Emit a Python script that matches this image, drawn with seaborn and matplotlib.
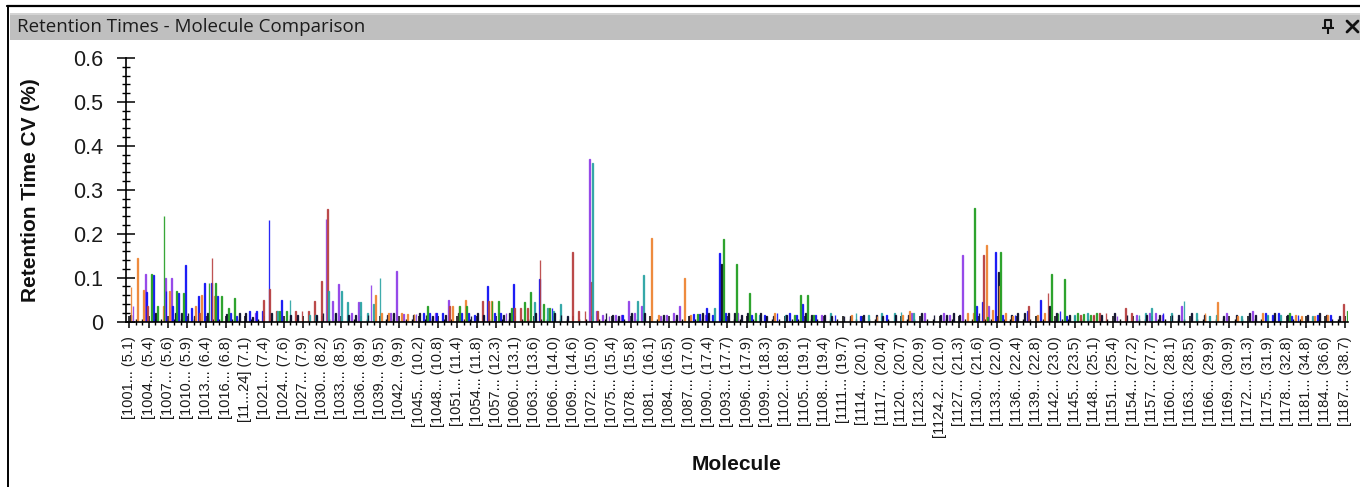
import matplotlib
matplotlib.use("Agg")
import matplotlib.pyplot as plt
from matplotlib.lines import Line2D
from matplotlib.patches import Rectangle
from matplotlib.ticker import FixedLocator, MultipleLocator, FuncFormatter
import pandas as pd
import seaborn as sns

# ---------------------------------------------------------------- data
N_MOLECULES = 190
LABEL_STEP = 3

MOLECULE_LABELS = [
    "[1001... (5.1)", "[1004... (5.4)", "[1007... (5.6)", "[1010... (5.9)",
    "[1013... (6.4)", "[1016... (6.8)", "[11...24] (7.1)", "[1021... (7.4)",
    "[1024... (7.6)", "[1027... (7.9)", "[1030... (8.2)", "[1033... (8.5)",
    "[1036... (8.9)", "[1039... (9.5)", "[1042... (9.9)", "[1045... (10.2)",
    "[1048... (10.8)", "[1051... (11.4)", "[1054... (11.8)", "[1057... (12.3)",
    "[1060... (13.1)", "[1063... (13.6)", "[1066... (14.0)", "[1069... (14.6)",
    "[1072... (15.0)", "[1075... (15.4)", "[1078... (15.8)", "[1081... (16.1)",
    "[1084... (16.5)", "[1087... (17.0)", "[1090... (17.4)", "[1093... (17.7)",
    "[1096... (17.9)", "[1099... (18.3)", "[1102... (18.9)", "[1105... (19.1)",
    "[1108... (19.4)", "[1111... (19.7)", "[1114... (20.1)", "[1117... (20.4)",
    "[1120... (20.7)", "[1123... (20.9)", "[1124.2... (21.0)", "[1127... (21.3)",
    "[1130... (21.6)", "[1133... (22.0)", "[1136... (22.4)", "[1139... (22.8)",
    "[1142... (23.0)", "[1145... (23.5)", "[1148... (25.1)", "[1151... (25.4)",
    "[1154... (27.2)", "[1157... (27.7)", "[1160... (28.1)", "[1163... (28.5)",
    "[1166... (29.9)", "[1169... (30.9)", "[1172... (31.3)", "[1175... (31.9)",
    "[1178... (32.8)", "[1181... (34.8)", "[1184... (36.6)", "[1187... (38.7)",
]

SERIES = ["purple", "blue", "darkred", "teal", "black", "orange", "green"]

# retention time CV per molecule index, one dict per transition series
CV_PURPLE = {1: .036, 3: .108, 6: .10, 7: .10, 20: .02, 31: .233, 32: .047,
             33: .085, 35: .02, 36: .044, 38: .082, 41: .02, 42: .114, 43: .017,
             45: .017, 48: .02, 50: .05, 58: .02, 59: .02, 72: .37, 73: .025,
             74: .015, 75: .012, 76: .015, 77: .015, 78: .047, 79: .02, 80: .036,
             83: .012, 84: .015, 85: .02, 86: .035, 90: .015, 95: .02, 108: .015,
             122: .02, 124: .02, 127: .02, 128: .015, 130: .151, 134: .036,
             154: .012, 157: .015, 159: .02, 160: .02, 161: .015, 164: .035,
             171: .02, 175: .025}
CV_BLUE = {3: .067, 4: .105, 6: .07, 7: .035, 8: .066, 9: .129, 10: .03, 11: .058,
           12: .087, 13: .087, 14: .058, 16: .02, 17: .012, 19: .025, 20: .025,
           21: .025, 22: .231, 24: .05, 46: .02, 47: .02, 48: .02, 49: .02, 52: .02,
           53: .02, 54: .015, 56: .08, 57: .02, 58: .02, 60: .086, 64: .097,
           66: .03, 77: .015, 88: .017, 89: .017, 90: .03, 91: .015, 92: .155,
           93: .02, 97: .015, 99: .015, 101: .02, 103: .02, 104: .015, 105: .04,
           107: .015, 110: .015, 114: .012, 118: .015, 132: .036, 133: .044,
           135: .158, 136: .015, 138: .015, 140: .025, 142: .05, 145: .025,
           146: .012, 161: .02, 177: .02, 178: .015, 179: .02, 181: .012,
           182: .015, 185: .015, 187: .015}
CV_DARKRED = {3: .036, 11: .02, 13: .144, 21: .05, 22: .074, 23: .025, 26: .025,
              27: .025, 28: .025, 29: .047, 30: .093, 31: .256, 50: .036, 55: .047,
              56: .047, 60: .03, 61: .03, 62: .03, 64: .141, 69: .159, 70: .025,
              71: .025, 72: .09, 73: .025, 133: .151, 140: .035, 143: .065,
              148: .015, 150: .015, 151: .02, 152: .02, 155: .03, 156: .02,
              189: .04}
CV_TEAL = {23: .025, 25: .05, 28: .015, 29: .015, 31: .07, 32: .02, 33: .07,
           34: .044, 36: .044, 37: .02, 38: .04, 39: .10, 63: .044, 65: .03,
           66: .025, 67: .04, 72: .36, 79: .047, 80: .107, 91: .03, 98: .015,
           102: .015, 109: .02, 113: .02, 115: .015, 117: .02, 119: .02,
           120: .022, 122: .02, 147: .015, 149: .02, 157: .015, 158: .02,
           159: .03, 162: .02, 164: .047, 166: .02, 168: .012, 169: .015,
           173: .012, 177: .015, 179: .015, 184: .012}
CV_BLACK = {0: .015, 4: .02, 7: .02, 8: .02, 9: .02, 10: .012, 12: .02, 15: .018,
            17: .02, 18: .02, 19: .01, 22: .02, 25: .015, 26: .015, 29: .015,
            30: .02, 32: .02, 34: .015, 35: .015, 37: .015, 40: .015, 41: .02,
            44: .015, 45: .02, 46: .015, 47: .012, 49: .015, 51: .02, 53: .012,
            54: .02, 55: .015, 58: .015, 59: .02, 63: .02, 66: .02, 67: .015,
            68: .012, 74: .02, 75: .015, 76: .012, 78: .02, 80: .02, 83: .015,
            85: .015, 87: .012, 89: .02, 90: .02, 92: .13, 93: .02, 94: .02,
            95: .015, 96: .02, 98: .02, 99: .012, 100: .012, 102: .015, 105: .02,
            106: .015, 108: .015, 109: .012, 111: .012, 112: .012, 114: .015,
            116: .015, 117: .012, 119: .015, 121: .015, 123: .02, 125: .015,
            126: .015, 127: .015, 128: .02, 129: .015, 132: .02, 135: .112,
            137: .015, 138: .02, 139: .02, 141: .015, 143: .035, 144: .02,
            146: .015, 151: .015, 153: .02, 155: .015, 158: .015, 160: .015,
            162: .015, 163: .015, 165: .02, 167: .015, 170: .012, 172: .015,
            174: .02, 175: .015, 178: .02, 180: .015, 183: .015, 185: .02,
            186: .015, 188: .012}
CV_ORANGE = {0: .078, 1: .145, 2: .072, 5: .035, 6: .07, 10: .035, 11: .06,
             13: .058, 38: .06, 39: .02, 40: .02, 42: .02, 43: .017, 44: .017,
             50: .036, 51: .036, 52: .05, 56: .047, 65: .03, 81: .19, 82: .015,
             86: .10, 87: .015, 100: .02, 112: .015, 116: .012, 120: .015,
             121: .025, 130: .02, 131: .02, 133: .175, 134: .027, 135: .08,
             136: .02, 137: .012, 141: .015, 142: .02, 167: .02, 169: .044,
             172: .012, 176: .02, 181: .015, 182: .012, 184: .012, 186: .015}
CV_GREEN = {3: .108, 4: .036, 5: .241, 7: .07, 8: .066, 12: .088, 13: .087,
            14: .058, 15: .03, 16: .054, 23: .025, 24: .025, 46: .036, 51: .036,
            52: .036, 56: .047, 57: .047, 59: .03, 61: .044, 62: .068, 64: .04,
            65: .03, 88: .017, 92: .187, 94: .13, 96: .065, 97: .02, 103: .015,
            104: .06, 105: .06, 106: .015, 131: .258, 133: .01, 135: .158,
            143: .108, 144: .02, 145: .097, 147: .02, 148: .018, 149: .015,
            150: .02, 180: .02, 189: .025}

SERIES_VALUES = [CV_PURPLE, CV_BLUE, CV_DARKRED, CV_TEAL, CV_BLACK, CV_ORANGE, CV_GREEN]

PALETTE = {
    "purple": "#9040E8", "blue": "#1010F5", "darkred": "#B84040",
    "teal": "#2AA3A3", "black": "#0A0A28", "orange": "#EE8533",
    "green": "#229E22",
}

rows = []
for name, values in zip(SERIES, SERIES_VALUES):
    for idx in range(N_MOLECULES):
        rows.append({"molecule": idx, "series": name, "cv": values.get(idx, 0.0)})
df = pd.DataFrame(rows)

# ---------------------------------------------------------------- style
sns.set_style("white")
plt.rcParams["font.family"] = ["Liberation Sans", "DejaVu Sans"]

W, H = 1360, 487
fig = plt.figure(figsize=(W / 100, H / 100), dpi=100, facecolor="white")


def fx(px):
    return px / W


def fy(py):
    return 1 - py / H


# window chrome: frame, title bar, pin and close glyphs
fig.add_artist(Line2D([fx(7), fx(W)], [fy(6), fy(6)], color="black", lw=1.6))
fig.add_artist(Line2D([fx(7.5), fx(7.5)], [fy(6), fy(H)], color="black", lw=1.4))
fig.add_artist(Rectangle((fx(10), fy(40)), fx(W - 10), (40 - 13) / H,
                         facecolor="#BFBFBF", edgecolor="none"))
fig.add_artist(Rectangle((fx(10), fy(15)), fx(W - 10), 2 / H,
                         facecolor="#D4D4D4", edgecolor="none"))
fig.text(fx(17), fy(27), "Retention Times - Molecule Comparison",
         family=["Open Sans", "DejaVu Sans"], fontsize=13.5, color="#1c1c1c",
         ha="left", va="center")
# pushpin
pin = dict(color="#111111", lw=1.5, solid_capstyle="butt")
fig.add_artist(Line2D([fx(1325), fx(1325), fx(1331), fx(1331)],
                      [fy(28), fy(20), fy(20), fy(28)], **pin))
fig.add_artist(Line2D([fx(1322), fx(1334)], [fy(28), fy(28)], **pin))
fig.add_artist(Line2D([fx(1328), fx(1328)], [fy(28), fy(34)], **pin))
# close cross
fig.add_artist(Line2D([fx(1347), fx(1358)], [fy(21), fy(32)], color="#111111", lw=2))
fig.add_artist(Line2D([fx(1347), fx(1358)], [fy(32), fy(21)], color="#111111", lw=2))

# ---------------------------------------------------------------- plot
ax_left, ax_right, ax_top, ax_bot = 126, 1348, 58, 321.5
ax = fig.add_axes([fx(ax_left), fy(ax_bot), fx(ax_right - ax_left),
                   (ax_bot - ax_top) / H])

sns.barplot(data=df, x="molecule", y="cv", hue="series", hue_order=SERIES,
            order=list(range(N_MOLECULES)), palette=PALETTE, width=0.95,
            dodge=True, errorbar=None, saturation=1, legend=False, ax=ax)

for bar in ax.patches:
    if bar.get_height() > 0:
        bar.set_edgecolor(bar.get_facecolor())
        bar.set_linewidth(0.95)
        bar.set_alpha(0.9)
    else:
        bar.set_visible(False)

ax.set_xlim(-0.5, N_MOLECULES - 0.5)
ax.set_ylim(0, 0.6)

label_pos = list(range(0, N_MOLECULES, LABEL_STEP))
ax.set_xticks(label_pos)
ax.set_xticklabels(MOLECULE_LABELS, rotation=90, fontsize=10.5, color="#1a1a1a")
ax.xaxis.set_minor_locator(FixedLocator(range(N_MOLECULES)))
ax.tick_params(axis="x", which="major", direction="inout", length=9, width=1.1,
               color="black", pad=6, bottom=True)
ax.tick_params(axis="x", which="minor", direction="inout", length=5, width=1.0,
               color="black", bottom=True)

ax.yaxis.set_major_locator(MultipleLocator(0.1))
ax.yaxis.set_minor_locator(MultipleLocator(0.02))
ax.yaxis.set_major_formatter(FuncFormatter(lambda v, _: "0" if abs(v) < 1e-9 else f"{v:.1f}"))
ax.tick_params(axis="y", which="major", direction="inout", length=13, width=1.1,
               color="black", pad=10, labelsize=15.5, labelcolor="#1a1a1a", left=True)
ax.tick_params(axis="y", which="minor", direction="inout", length=6, width=1.0,
               color="black", left=True)

for side in ("top", "right"):
    ax.spines[side].set_visible(False)
for side in ("left", "bottom"):
    ax.spines[side].set_color("black")
    ax.spines[side].set_linewidth(1.2)

ax.set_ylabel("Retention Time CV (%)", fontsize=15, fontweight="bold", color="#111111")
ax.yaxis.set_label_coords(-0.0704, 0.5)
ax.set_xlabel("Molecule", fontsize=15, fontweight="bold", color="#111111")
ax.xaxis.label.set_va("center")
ax.xaxis.set_label_coords(0.5, (ax_bot - 465) / (ax_bot - ax_top))

fig.savefig("out.png", dpi=100, facecolor="white")
